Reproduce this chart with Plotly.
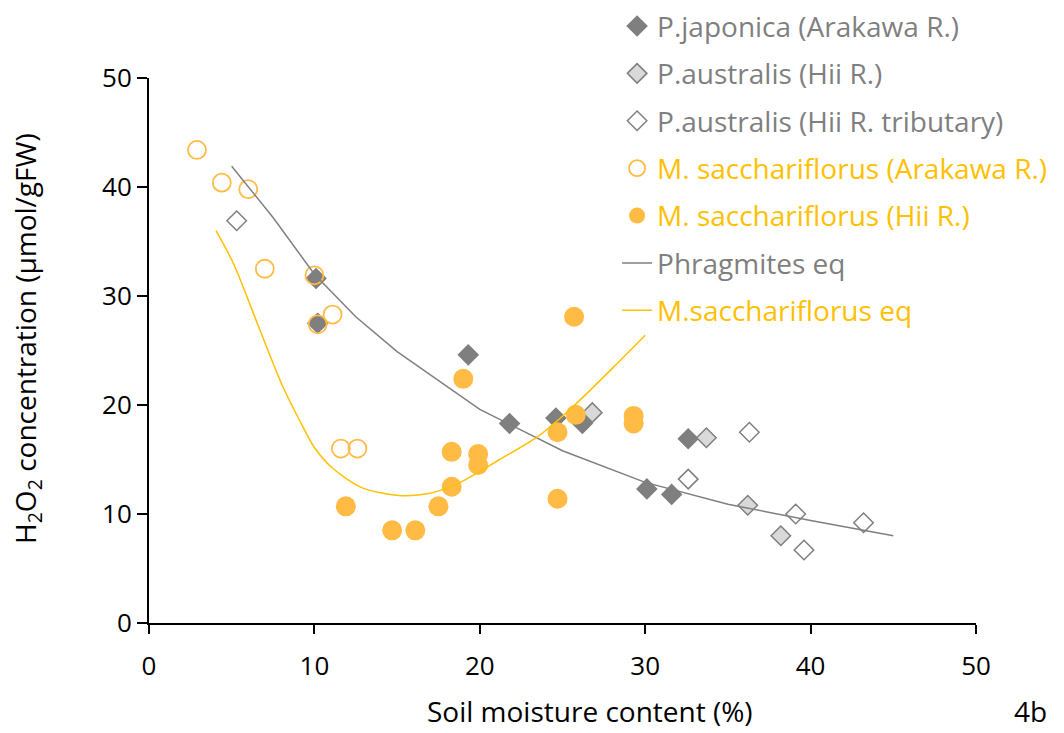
import plotly.graph_objects as go

# ---- data ----
pj_x = [10.1, 10.2, 19.3, 21.8, 24.6, 26.2, 30.1, 31.6, 32.6]
pj_y = [31.6, 27.5, 24.6, 18.3, 18.8, 18.3, 12.3, 11.8, 16.9]

pah_x = [26.8, 33.7, 36.2, 38.2]
pah_y = [19.3, 17.0, 10.8, 8.0]

pat_x = [5.3, 32.6, 36.3, 39.1, 39.6, 43.2]
pat_y = [36.9, 13.2, 17.5, 10.0, 6.7, 9.2]

msa_x = [2.9, 4.4, 6.0, 7.0, 10.0, 10.2, 11.1, 11.6, 12.6]
msa_y = [43.4, 40.4, 39.8, 32.5, 31.9, 27.4, 28.3, 16.0, 16.0]

msh_x = [11.9, 14.7, 16.1, 17.5, 18.3, 18.3, 19.0, 19.9, 19.9, 24.7, 24.7, 25.7, 25.8, 29.3, 29.3]
msh_y = [10.7, 8.5, 8.5, 10.7, 12.5, 15.7, 22.4, 15.5, 14.5, 17.5, 11.4, 28.1, 19.1, 19.0, 18.3]

phr_eq_x = [5, 7.5, 10, 12.5, 15, 20, 25, 30, 35, 40, 45]
phr_eq_y = [41.9, 37.2, 32.0, 28.1, 24.9, 19.6, 15.8, 12.9, 10.9, 9.4, 8.0]

ms_eq_x = [4.05, 5.1, 6.7, 8.0, 9.1, 10.0, 11.1, 12.9, 15.1, 17.0, 18.8, 21.2, 23.5, 25.6, 28.1, 30.0]
ms_eq_y = [36.0, 33.0, 26.9, 22.0, 18.6, 16.1, 14.2, 12.4, 11.7, 11.9, 12.9, 15.0, 17.1, 19.8, 23.5, 26.4]

x_ticks = [0, 10, 20, 30, 40, 50]
y_ticks = [0, 10, 20, 30, 40, 50]

GRAY = "#7f7f7f"
ORANGE = "#FFC000"
ORANGE_M = "#FFBB44"
FONT = "Open Sans"

def gname(t):
    return f"<span style='color:{GRAY}'>{t}</span>"

def oname(t):
    return f"<span style='color:{ORANGE}'>{t}</span>"

fig = go.Figure()

fig.add_trace(go.Scatter(x=pj_x, y=pj_y, mode="markers", name=gname("P.japonica (Arakawa R.)"),
                         legendgroup="a",
                         marker=dict(symbol="diamond", size=15, color=GRAY, line=dict(color=GRAY, width=1.5))))
fig.add_trace(go.Scatter(x=pah_x, y=pah_y, mode="markers", name=gname("P.australis (Hii R.)"),
                         legendgroup="b",
                         marker=dict(symbol="diamond", size=15, color="#d9d9d9", line=dict(color=GRAY, width=1.5))))
fig.add_trace(go.Scatter(x=pat_x, y=pat_y, mode="markers", name=gname("P.australis (Hii R. tributary)"),
                         legendgroup="c",
                         marker=dict(symbol="diamond", size=15, color="white", line=dict(color=GRAY, width=1.5))))
fig.add_trace(go.Scatter(x=msa_x, y=msa_y, mode="markers", name=oname("M. sacchariflorus (Arakawa R.)"),
                         legendgroup="d",
                         marker=dict(symbol="circle-open", size=18, color=ORANGE_M, line=dict(width=1.8))))
fig.add_trace(go.Scatter(x=msh_x, y=msh_y, mode="markers", name=oname("M. sacchariflorus (Hii R.)"),
                         legendgroup="e",
                         marker=dict(symbol="circle", size=20, color=ORANGE_M, line=dict(width=0))))
fig.add_trace(go.Scatter(x=phr_eq_x, y=phr_eq_y, mode="lines", name=gname("Phragmites eq"),
                         legendgroup="f",
                         line=dict(color=GRAY, width=1.5)))
fig.add_trace(go.Scatter(x=ms_eq_x, y=ms_eq_y, mode="lines", name=oname("M.sacchariflorus eq"),
                         legendgroup="g",
                         line=dict(color=ORANGE, width=1.5, shape="spline", smoothing=0.8)))

fig.update_layout(
    width=1064, height=733,
    margin=dict(l=149, r=88, t=78, b=110, autoexpand=False),
    paper_bgcolor="white", plot_bgcolor="white",
    font=dict(family=FONT, size=28, color="black"),
    showlegend=True,
    legend=dict(x=0.566, y=1.1408, xanchor="left", yanchor="top",
                bgcolor="rgba(0,0,0,0)", font=dict(family=FONT, size=28, color=GRAY),
                tracegroupgap=8, traceorder="grouped", itemsizing="trace"),
    xaxis=dict(range=[0, 50], tickvals=x_ticks, showgrid=False, zeroline=False,
               showline=True, linecolor="black", linewidth=2,
               ticks="outside", ticklen=9, tickwidth=2, tickcolor="black",
               ticklabelstandoff=10,
               tickfont=dict(family=FONT, size=26, color="black")),
    yaxis=dict(range=[0, 50], tickvals=y_ticks, showgrid=False, zeroline=False,
               showline=True, linecolor="black", linewidth=2,
               ticks="outside", ticklen=10, tickwidth=2, tickcolor="black",
               tickfont=dict(family=FONT, size=26, color="black")),
    annotations=[
        dict(text="Soil moisture content (%)", xref="paper", yref="paper",
             x=(590 - 149) / 827, y=-(732 - 623) / 545, xanchor="center", yanchor="bottom",
             showarrow=False, font=dict(family=FONT, size=28, color="black")),
        dict(text="H<sub>2</sub>O<sub>2</sub> concentration (μmol/gFW)", xref="paper", yref="paper",
             x=-(149 - 27) / 827, y=(623 - 339) / 545, xanchor="center", yanchor="middle",
             textangle=-90, showarrow=False, font=dict(family=FONT, size=28, color="black")),
        dict(text="4b", xref="paper", yref="paper",
             x=(1030 - 149) / 827, y=-(732 - 623) / 545, xanchor="center", yanchor="bottom",
             showarrow=False, font=dict(family=FONT, size=28, color="black")),
    ],
)

fig.write_html("out.html")
